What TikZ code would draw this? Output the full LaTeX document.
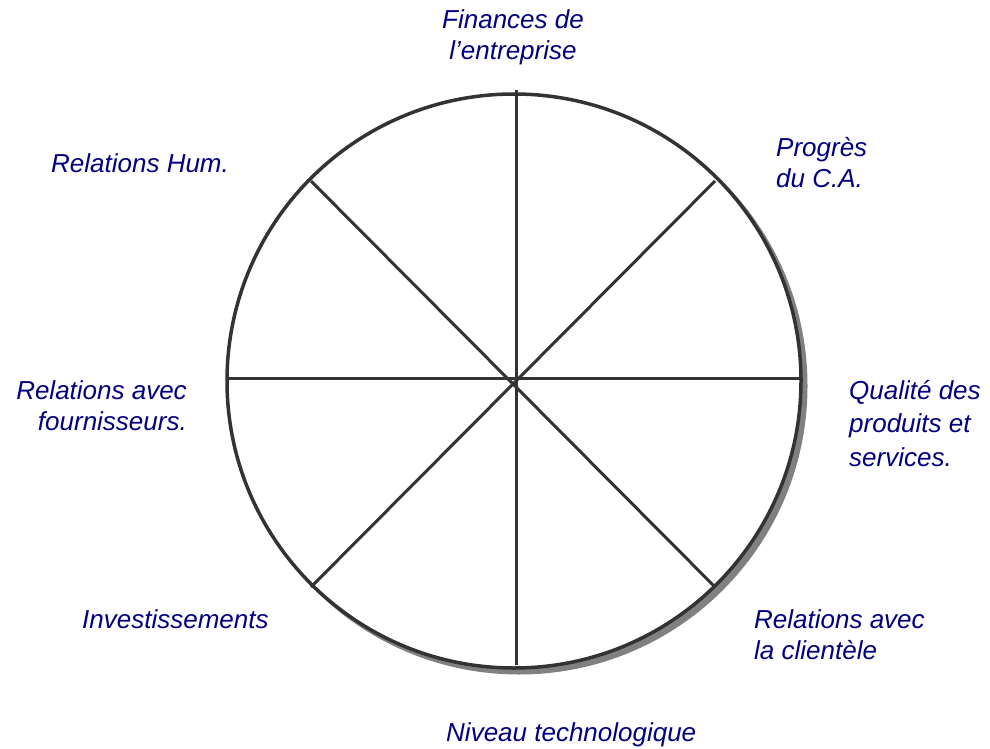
\documentclass[tikz,border=0pt]{standalone}
\usepackage{fontspec}
\setmainfont{Liberation Sans}
\usetikzlibrary{positioning}
\definecolor{labelblue}{HTML}{000080}
\definecolor{spokegray}{HTML}{333333}
\definecolor{shadowgray}{HTML}{808080}
\begin{document}
\begin{tikzpicture}[x=1pt, y=-1pt,
	spoke/.style={spokegray, line width=3pt},
	lbl/.style={labelblue, inner sep=0pt, font=\fontsize{26}{31}\selectfont\itshape}]
	\useasboundingbox (0,0) rectangle (990,749);
	
	% cercle
	\coordinate (o) at (514,381);
	\fill[shadowgray] (519,386) circle (288.5);
	\filldraw[fill=white, draw=spokegray, line width=3.5pt] (o) circle (287);
	
	% rayons
	\coordinate (top) at (516,90);
	\coordinate (bot) at (516,665);
	\coordinate (lft) at (229,378);
	\coordinate (rgt) at (803,378);
	\coordinate (nw) at (311,181);
	\coordinate (se) at (715,587);
	\coordinate (ne) at (715,181);
	\coordinate (sw) at (311,587);
	\draw[spoke] (top) -- (bot);
	\draw[spoke] (lft) -- (rgt);
	\draw[spoke] (nw) -- (se);
	\draw[spoke] (ne) -- (sw);
	
	% libelles
	\node[lbl, anchor=north, align=center] (fin) at (513,9) {Finances de\\l’entreprise};
	\node[lbl, anchor=north west, align=left] (prog) at (776,137) {Progrès\\du C.A.};
	\node[lbl, anchor=north west] (hum) at (51,153) {Relations Hum.};
	\node[lbl, anchor=north east, align=right] (four) at (187,380) {Relations avec\\fournisseurs.};
	\node[lbl, anchor=north west, align=left,
		font=\fontsize{26}{33.5}\selectfont\itshape] (qual) at (849,380) {Qualité des\\produits et\\services.};
	\node[lbl, anchor=north west] (inv) at (82,609) {Investissements};
	\node[lbl, anchor=north west, align=left] (cli) at (754,609) {Relations avec\\la clientèle};
	\node[lbl, anchor=north west] (tech) at (446,722) {Niveau technologique};
\end{tikzpicture}
\end{document}
